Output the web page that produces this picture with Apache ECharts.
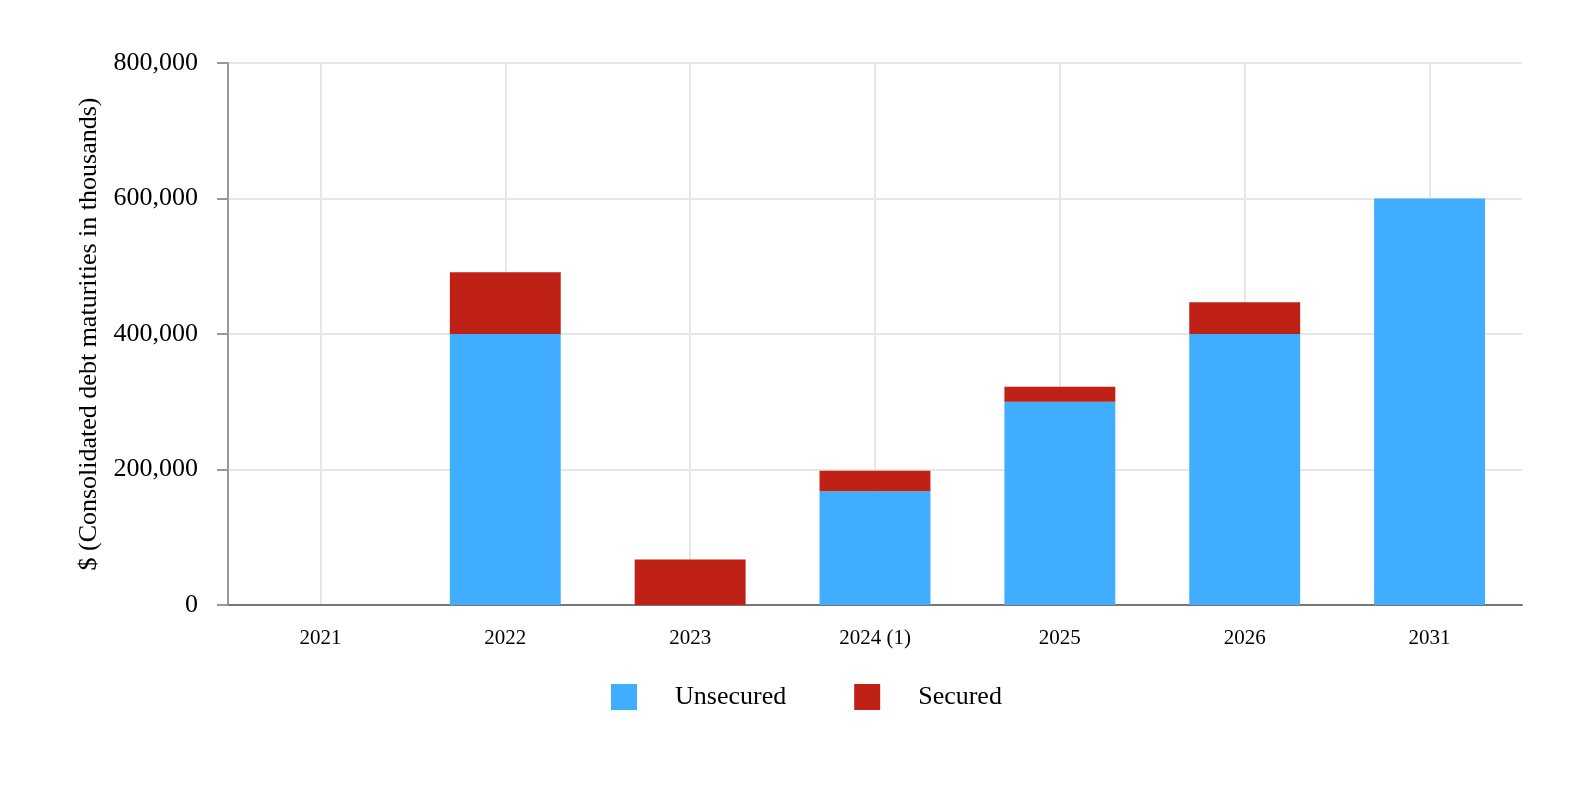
<!DOCTYPE html>
<html>
<head>
<meta charset="utf-8">
<script src="https://cdn.jsdelivr.net/npm/echarts@6/dist/echarts.min.js"></script>
<style>
html,body{margin:0;padding:0;background:#fff;}
#chart{width:1586px;height:786px;}
</style>
</head>
<body>
<div id="chart"></div>
<script>
const categories = ['2021', '2022', '2023', '2024 (1)', '2025', '2026', '2031'];
const unsecured = [0, 400000, 0, 168000, 300000, 400000, 600000];
const secured = [0, 91000, 67000, 30000, 22000, 47000, 0];
const yTicks = [0, 200000, 400000, 600000, 800000];

const FONT = '"Liberation Serif", "Times New Roman", serif';
const chart = echarts.init(document.getElementById('chart'));
chart.setOption({
  animation: false,
  backgroundColor: '#ffffff',
  grid: { left: 228, right: 64, top: 63, bottom: 181 },
  legend: {
    left: 606, top: 679,
    itemWidth: 26, itemHeight: 26, itemGap: 68,
    icon: 'rect',
    textStyle: { fontFamily: FONT, fontSize: 26, color: '#000', padding: [0, 0, 0, 33] },
    data: ['Unsecured', 'Secured']
  },
  xAxis: {
    type: 'category',
    data: categories,
    axisLine: { lineStyle: { color: '#777', width: 2 } },
    axisTick: { alignWithLabel: true, length: 10, lineStyle: { color: '#777', width: 2 } },
    axisLabel: { fontFamily: FONT, fontSize: 21, color: '#000', margin: 23 },
    splitLine: { show: true, alignWithLabel: true, lineStyle: { color: '#e6e6e6', width: 2 } }
  },
  yAxis: {
    type: 'value',
    min: yTicks[0], max: yTicks[yTicks.length - 1], interval: yTicks[1] - yTicks[0],
    name: '$ (Consolidated debt maturities in thousands)',
    nameLocation: 'middle', nameGap: 126,
    nameTextStyle: { fontFamily: FONT, fontSize: 26, color: '#000' },
    axisLine: { show: true, lineStyle: { color: '#999', width: 2 } },
    axisTick: { show: true, length: 11, lineStyle: { color: '#999', width: 2 } },
    axisLabel: {
      fontFamily: FONT, fontSize: 26, color: '#000', margin: 30,
      formatter: v => v.toLocaleString('en-US')
    },
    splitLine: { lineStyle: { color: '#e6e6e6', width: 2 } }
  },
  series: [
    { name: 'Unsecured', type: 'bar', stack: 'total', barWidth: '60%', data: unsecured, itemStyle: { color: '#40adff' } },
    { name: 'Secured', type: 'bar', stack: 'total', barWidth: '60%', data: secured, itemStyle: { color: '#bf2116' } }
  ]
});
</script>
</body>
</html>
